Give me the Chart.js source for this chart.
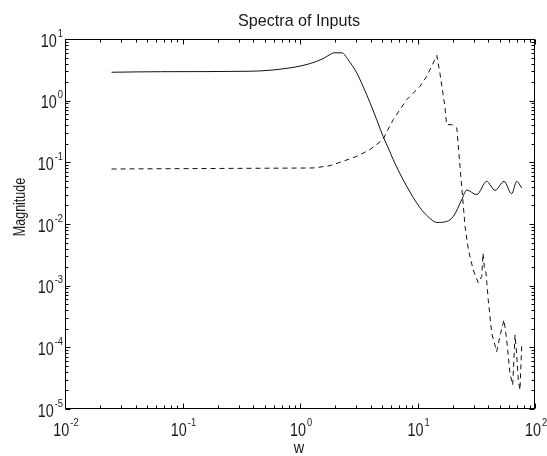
<!DOCTYPE html>
<html>
<head>
<meta charset="utf-8">
<script src="https://cdn.jsdelivr.net/npm/chart.js@4"></script>
<style>
  html, body { margin: 0; padding: 0; background: #fff; }
  canvas { display: block; }
</style>
</head>
<body>
<canvas id="spectra" width="547" height="456"></canvas>
<script>
// frequencies / magnitudes
const wSolid = [0.0249, 0.065, 0.375, 0.82, 1.22, 1.57, 1.86, 1.95, 2.28, 2.56, 3.04, 3.44, 3.94, 4.50, 5.09, 5.72, 6.22, 8.09, 10.5, 12.5, 14.6, 17.7, 20.2, 23.8, 26.2, 31.9, 38.8, 45.7, 54.5, 63.3, 69.9, 77.1];
const magSolid = [2.89, 2.95, 3.0, 3.4, 4.0, 4.8, 5.8, 5.97, 5.97, 4.65, 2.82, 1.71, 0.93, 0.49, 0.264, 0.161, 0.110, 0.041, 0.0184, 0.0128, 0.0106, 0.011, 0.0133, 0.0248, 0.0355, 0.0299, 0.0491, 0.0351, 0.0491, 0.031, 0.0491, 0.0384];

const wDashed = [0.0249, 0.556, 1.29, 1.80, 2.32, 3.04, 3.94, 5.09, 5.6, 6.22, 8.09, 10.5, 12.0, 14.6, 15.5, 17.1, 17.7, 19.6, 21.6, 23.0, 24.3, 25.4, 27.1, 29.8, 32.9, 35.2, 36.1, 37.1, 38.3, 40.0, 42.8, 47.2, 51.0, 54.5, 57.4, 61.2, 64.6, 67.6, 69.9, 72.1, 74.5, 77.1];
const magDashed = [0.078, 0.0803, 0.081, 0.088, 0.104, 0.125, 0.161, 0.234, 0.34, 0.493, 1.04, 1.71, 2.49, 5.4, 2.83, 0.81, 0.409, 0.409, 0.361, 0.086, 0.0248, 0.0091, 0.0038, 0.0018, 0.00111, 0.00141, 0.00337, 0.00195, 0.0016, 0.000589, 0.00017, 0.000085, 0.00017, 0.000279, 0.000132, 0.000038, 0.0000245, 0.000159, 0.000075, 0.0000295, 0.0000203, 0.000109];

const xDecades = [-2, -1, 0, 1, 2];
const yDecades = [-5, -4, -3, -2, -1, 0, 1];

const FONT = '"Liberation Sans", Arial, sans-serif';
const INK = '#1a1a1a';

function pts(xs, ys) {
    return xs.map((x, i) => ({ x: x, y: ys[i] }));
}

function txt(ctx, s, x, y, size, sx, align) {
    ctx.save();
    ctx.translate(x, y);
    ctx.scale(sx, 1);
    ctx.font = size + 'px ' + FONT;
    ctx.textAlign = align || 'left';
    ctx.textBaseline = 'alphabetic';
    ctx.fillText(s, 0, 0);
    ctx.restore();
}

function width(ctx, s, size, sx) {
    ctx.font = size + 'px ' + FONT;
    return ctx.measureText(s).width * sx;
}

// "10" with a raised exponent, left edge at x
function powerLabel(ctx, e, x, base) {
    let w10 = width(ctx, '10', 18, 0.8);
    txt(ctx, '10', x, base, 18, 0.8);
    txt(ctx, String(e), x + w10 + 1, base - 10, 11, 0.85);
}

function powerWidth(ctx, e) {
    return width(ctx, '10', 18, 0.8) + 1 + width(ctx, String(e), 11, 0.85);
}

// matlab style box, inward ticks, labels
const matlabAxes = {
    id: 'matlabAxes',
    afterDraw(chart) {
        const ctx = chart.ctx;
        const a = chart.chartArea;
        const xs = chart.scales.x;
        const ys = chart.scales.y;
        const L = Math.round(a.left) + 0.5, R = Math.round(a.right) - 0.5;
        const T = Math.round(a.top) + 0.5, B = Math.round(a.bottom) - 0.5;

        ctx.save();
        ctx.strokeStyle = '#000';
        ctx.lineWidth = 1;
        ctx.strokeRect(L, T, R - L, B - T);

        ctx.beginPath();
        xDecades.forEach(d => {
            for (let k = 1; k <= 9; k++) {
                if (d === 2 && k > 1) break;
                let px = Math.round(xs.getPixelForValue(k * Math.pow(10, d))) + 0.5;
                let len = k === 1 ? 5 : 3;
                ctx.moveTo(px, B); ctx.lineTo(px, B - len);
                ctx.moveTo(px, T); ctx.lineTo(px, T + len);
            }
        });
        yDecades.forEach(d => {
            for (let k = 1; k <= 9; k++) {
                if (d === 1 && k > 1) break;
                let py = Math.round(ys.getPixelForValue(k * Math.pow(10, d))) + 0.5;
                let len = k === 1 ? 5 : 3;
                ctx.moveTo(L, py); ctx.lineTo(L + len, py);
                ctx.moveTo(R, py); ctx.lineTo(R - len, py);
            }
        });
        ctx.stroke();

        ctx.fillStyle = INK;
        xDecades.forEach(d => {
            let px = xs.getPixelForValue(Math.pow(10, d));
            powerLabel(ctx, d, px - powerWidth(ctx, d) / 2 + 1, 436);
        });
        yDecades.forEach(d => {
            let py = ys.getPixelForValue(Math.pow(10, d));
            powerLabel(ctx, d, a.left - 2 - powerWidth(ctx, d), py + 7.5);
        });

        txt(ctx, 'Spectra of Inputs', 299, 26, 17, 0.95, 'center');
        txt(ctx, 'w', 299, 453, 17, 0.85, 'center');

        ctx.save();
        ctx.translate(25, 207);
        ctx.rotate(-Math.PI / 2);
        txt(ctx, 'Magnitude', 0, 0, 16, 0.78, 'center');
        ctx.restore();
        ctx.restore();
    }
};

new Chart(document.getElementById('spectra').getContext('2d'), {
    type: 'line',
    data: {
        datasets: [{
            label: 'input 1',
            data: pts(wSolid, magSolid),
            borderColor: '#111',
            borderWidth: 1,
            pointRadius: 0,
            cubicInterpolationMode: 'monotone',
            fill: false
        }, {
            label: 'input 2',
            data: pts(wDashed, magDashed),
            borderColor: '#111',
            borderWidth: 1,
            borderDash: [5, 4],
            pointRadius: 0,
            tension: 0,
            fill: false
        }]
    },
    options: {
        responsive: false,
        animation: false,
        devicePixelRatio: 1,
        layout: { padding: { left: 65, right: 12, top: 39, bottom: 47 } },
        plugins: { legend: { display: false }, tooltip: { enabled: false }, title: { display: false } },
        scales: {
            x: { type: 'logarithmic', min: 0.01, max: 100, display: false },
            y: { type: 'logarithmic', min: 1e-5, max: 10, display: false }
        }
    },
    plugins: [matlabAxes]
});
</script>
</body>
</html>
